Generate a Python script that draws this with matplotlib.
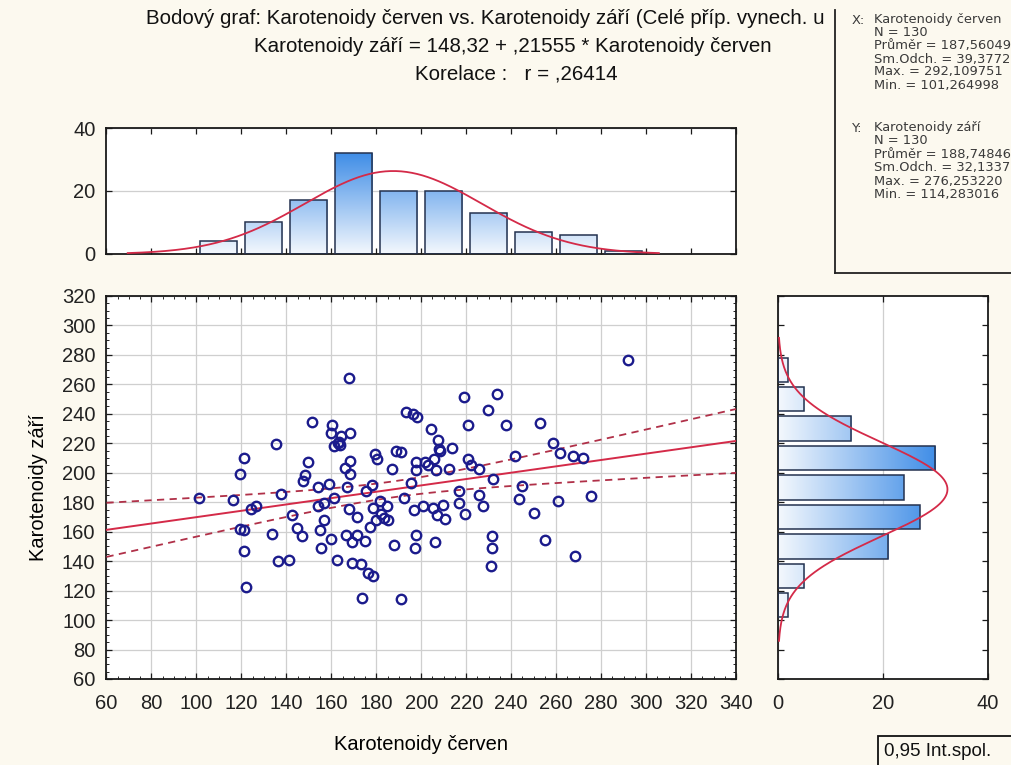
import numpy as np
import matplotlib
matplotlib.use('Agg')
import matplotlib.pyplot as plt
from matplotlib.colors import LinearSegmentedColormap
from matplotlib.patches import Rectangle
from matplotlib.lines import Line2D

plt.rcParams['font.family'] = ['Liberation Sans', 'DejaVu Sans']

# Karotenoidy červen (x) / Karotenoidy září (y)
cerven = [168.0, 151.3, 160.4, 159.7, 164.1, 168.3, 163.4, 161.2, 163.7, 135.3,
          121.2, 119.4, 149.8, 148.3, 147.6, 168.3, 166.2, 168.3, 179.3, 180.1,
          188.6, 187.1, 154.1, 159.1, 167.1, 175.3, 177.9, 116.1, 137.5, 124.1,
          126.4, 119.4, 121.2, 133.5, 121.2, 121.9, 136.3, 141.3, 142.7, 144.6,
          147.1, 154.1, 156.7, 161.2, 156.7, 154.8, 155.6, 159.7, 162.7, 167.9,
          171.3, 166.4, 169.3, 171.6, 175.0, 169.3, 173.3, 176.3, 178.7, 173.5,
          178.7, 181.6, 184.6, 181.9, 183.4, 185.2, 177.2, 179.7, 187.9, 191.0,
          218.8, 233.8, 229.6, 193.1, 196.5, 198.2, 221.0, 237.9, 252.9, 204.4,
          207.4, 207.8, 205.6, 213.7, 190.9, 197.5, 201.5, 197.5, 206.6, 212.2,
          221.0, 222.1, 225.9, 241.6, 258.8, 261.5, 232.1, 195.3, 216.6, 225.9,
          244.6, 243.5, 260.7, 192.4, 196.8, 200.9, 205.3, 209.6, 207.1, 210.7,
          216.6, 219.3, 227.4, 250.1, 197.8, 197.2, 205.9, 231.3, 231.3, 230.9,
          255.1, 267.5, 271.9, 275.3, 268.2, 292.1, 101.3, 162.8, 208.3, 203.0]
zari = [264.4, 234.6, 232.7, 227.1, 224.8, 227.1, 221.0, 218.2, 218.7, 219.4,
        210.3, 199.4, 207.3, 198.3, 194.2, 208.3, 203.5, 199.4, 213.0, 209.2,
        214.8, 202.8, 190.3, 192.6, 190.3, 187.6, 191.5, 181.3, 185.4, 175.1,
        177.4, 162.0, 160.9, 158.6, 146.6, 122.3, 139.8, 141.1, 171.1, 162.4,
        156.8, 177.4, 179.5, 183.1, 167.7, 160.9, 148.8, 155.2, 141.1, 175.1,
        169.9, 157.9, 152.9, 157.9, 153.4, 138.9, 138.2, 131.8, 130.2, 114.9,
        176.3, 180.8, 177.4, 171.7, 169.5, 167.7, 163.1, 167.7, 151.1, 114.3,
        251.6, 253.4, 242.5, 241.4, 240.2, 238.0, 232.7, 232.7, 233.9, 230.0,
        222.5, 216.4, 209.6, 216.9, 214.2, 207.3, 207.3, 201.7, 202.1, 202.8,
        209.6, 205.1, 202.8, 211.4, 220.5, 213.7, 196.0, 193.1, 187.6, 185.1,
        190.8, 182.0, 180.8, 183.1, 174.5, 177.2, 176.3, 178.3, 171.1, 168.8,
        179.7, 171.7, 177.4, 172.9, 157.9, 148.8, 152.9, 156.8, 148.8, 137.0,
        154.5, 211.4, 210.1, 184.0, 143.4, 276.3, 183.1, 220.3, 215.0, 205.5]

# marginal histograms (bin centres, counts)
hist_x_centers = [110, 130, 150, 170, 190, 210, 230, 250, 270, 290]
hist_x_counts = [4, 10, 17, 32, 20, 20, 13, 7, 6, 1]
hist_y_centers = [110, 130, 150, 170, 190, 210, 230, 250, 270]
hist_y_counts = [2, 5, 21, 27, 24, 30, 14, 5, 2]
bin_width = 20

n = 130
mean_x, sd_x = 187.56049, 39.3772
mean_y, sd_y = 188.74846, 32.1337
intercept, slope, r = 148.32, 0.21555, 0.26414

stats_x = ['N = 130', 'Průměr = 187,56049', 'Sm.Odch. = 39,3772',
           'Max. = 292,109751', 'Min. = 101,264998']
stats_y = ['N = 130', 'Průměr = 188,74846', 'Sm.Odch. = 32,1337',
           'Max. = 276,253220', 'Min. = 114,283016']

W, H = 1012, 765
bg = '#fcf9ef'
navy = '#1b1b8c'
red = '#d42a48'
edge = '#24324f'
grid_c = '#cfcfcf'
cmap = LinearSegmentedColormap.from_list('bars', ['#f4f8fd', '#3a8ae6'])

fig = plt.figure(figsize=(W / 100, H / 100), dpi=100, facecolor=bg)


def box(l, t, r_, b):
    return [l / W, 1 - b / H, (r_ - l) / W, (b - t) / H]


ax = fig.add_axes(box(106.5, 296, 736, 679))
axt = fig.add_axes(box(106.5, 128, 736, 254))
axr = fig.add_axes(box(778, 296, 988, 679))

for a in (ax, axt, axr):
    for s in a.spines.values():
        s.set_linewidth(1.3)
        s.set_color('#1a1a1a')
    a.tick_params(direction='in', length=4, width=0.9, colors='#1a1a1a',
                  labelsize=14.5, labelcolor='#222222')

# scatter
ax.set_xlim(60, 340)
ax.set_ylim(60, 320)
ax.set_xticks(np.arange(60, 341, 20))
ax.set_yticks(np.arange(60, 321, 20))
ax.set_xticks(np.arange(60, 341, 5), minor=True)
ax.set_yticks(np.arange(60, 321, 5), minor=True)
ax.tick_params(which='both', top=True, right=True)
ax.tick_params(which='minor', direction='in', length=2, width=0.6)
ax.tick_params(axis='x', pad=11)
ax.tick_params(axis='y', pad=8)
ax.grid(True, color=grid_c, lw=0.9)
ax.set_axisbelow(True)

ax.plot(cerven, zari, 'o', ms=6.8, mfc='none', mec=navy, mew=1.7, zorder=5)

xs = np.linspace(60, 340, 200)
fit = intercept + slope * xs
sxx = (n - 1) * sd_x ** 2
s_res = sd_y * np.sqrt(1 - r ** 2) * np.sqrt((n - 1) / (n - 2))
half = 1.979 * s_res * np.sqrt(1 / n + (xs - mean_x) ** 2 / sxx)
ax.plot(xs, fit, '-', color=red, lw=1.4, zorder=4)
ax.plot(xs, fit + half, '--', color='#b03048', lw=1.3, dashes=(4, 3), zorder=4)
ax.plot(xs, fit - half, '--', color='#b03048', lw=1.3, dashes=(4, 3), zorder=4)

ax.set_xlabel('Karotenoidy červen', fontsize=14.5, labelpad=16)
ax.set_ylabel('Karotenoidy září', fontsize=14.5, labelpad=10)

grad = np.linspace(0, 1, 256)

# top histogram
bw = 16.5
axt.set_xlim(60, 340)
axt.set_ylim(0, 40)
axt.set_yticks([0, 20, 40])
axt.set_xticks(np.arange(60, 341, 20))
axt.tick_params(axis='x', top=True, bottom=True, labelbottom=False)
axt.tick_params(axis='y', right=True, pad=8)
axt.grid(True, axis='y', color=grid_c, lw=0.9)
axt.set_axisbelow(True)
for c, cnt in zip(hist_x_centers, hist_x_counts):
    rect = Rectangle((c - bw / 2, 0), bw, cnt, facecolor='none', edgecolor=edge,
                     lw=1.1, zorder=3)
    axt.add_patch(rect)
    im = axt.imshow(grad.reshape(-1, 1), extent=(c - bw / 2, c + bw / 2, 0, 33),
                    origin='lower', cmap=cmap, aspect='auto', zorder=2)
    im.set_clip_path(rect)
cx = np.linspace(mean_x - 3 * sd_x, mean_x + 3 * sd_x, 300)
cy = n * bin_width * np.exp(-0.5 * ((cx - mean_x) / sd_x) ** 2) / (sd_x * np.sqrt(2 * np.pi))
axt.plot(cx, cy, color=red, lw=1.3, zorder=4)
axt.set_xlim(60, 340)
axt.set_ylim(0, 40)

# right histogram
axr.set_xlim(0, 40)
axr.set_ylim(60, 320)
axr.set_xticks([0, 20, 40])
axr.set_yticks(np.arange(60, 321, 20))
axr.tick_params(axis='y', left=True, right=True, labelleft=False)
axr.tick_params(axis='x', top=True, pad=11)
axr.grid(True, axis='x', color=grid_c, lw=0.9)
axr.set_axisbelow(True)
for c, cnt in zip(hist_y_centers, hist_y_counts):
    rect = Rectangle((0, c - bw / 2), cnt, bw, facecolor='none', edgecolor=edge,
                     lw=1.1, zorder=3)
    axr.add_patch(rect)
    im = axr.imshow(grad.reshape(1, -1), extent=(0, 31, c - bw / 2, c + bw / 2),
                    origin='lower', cmap=cmap, aspect='auto', zorder=2)
    im.set_clip_path(rect)
ry = np.linspace(mean_y - 3.2 * sd_y, mean_y + 3.2 * sd_y, 300)
rx = n * bin_width * np.exp(-0.5 * ((ry - mean_y) / sd_y) ** 2) / (sd_y * np.sqrt(2 * np.pi))
axr.plot(rx, ry, color=red, lw=1.3, zorder=4)
axr.set_xlim(0, 40)
axr.set_ylim(60, 320)

# titles
tfont = dict(fontsize=14.8, va='center', color='#111111')
fig.text(146 / W, 1 - 18 / H, 'Bodový graf: Karotenoidy červen vs. Karotenoidy září (Celé příp. vynech. u',
         ha='left', **tfont)
fig.text(513 / W, 1 - 46 / H, 'Karotenoidy září = 148,32 + ,21555 * Karotenoidy červen',
         ha='center', **tfont)
fig.text(516 / W, 1 - 74 / H, 'Korelace :   r = ,26414', ha='center', **tfont)

# statistics box
fig.add_artist(Rectangle((835 / W, 1 - 273 / H), 200 / W, 265 / H, transform=fig.transFigure,
                         facecolor=bg, edgecolor='none', zorder=5))
fig.add_artist(Line2D([835 / W, 835 / W], [1 - 10 / H, 1 - 273 / H], transform=fig.transFigure,
                      color='#222222', lw=1.3, zorder=6))
fig.add_artist(Line2D([835 / W, 1], [1 - 273 / H, 1 - 273 / H], transform=fig.transFigure,
                      color='#222222', lw=1.3, zorder=6))
sfont = dict(fontsize=9.4, family=['DejaVu Sans'], color='#3a3a3a', va='center', zorder=7)
fig.text(852 / W, 1 - 20 / H, 'X:', **sfont)
fig.text(874 / W, 1 - 20 / H, 'Karotenoidy červen', **sfont)
for i, s in enumerate(stats_x):
    fig.text(874 / W, 1 - (33 + 13 * i) / H, s, **sfont)
fig.text(852 / W, 1 - 128 / H, 'Y:', **sfont)
fig.text(874 / W, 1 - 128 / H, 'Karotenoidy září', **sfont)
for i, s in enumerate(stats_y):
    fig.text(874 / W, 1 - (141 + 13.4 * i) / H, s, **sfont)

# legend box bottom right
fig.add_artist(Rectangle((878 / W, -0.01), 0.2, (765 - 736) / H + 0.01, transform=fig.transFigure,
                         facecolor=bg, edgecolor='#111111', lw=1.3, zorder=5))
fig.text(884 / W, 1 - 751 / H, '0,95 Int.spol.', fontsize=13.5, ha='left', va='center',
         color='#111111', zorder=7)

fig.savefig('out.png', dpi=100, facecolor=bg)
